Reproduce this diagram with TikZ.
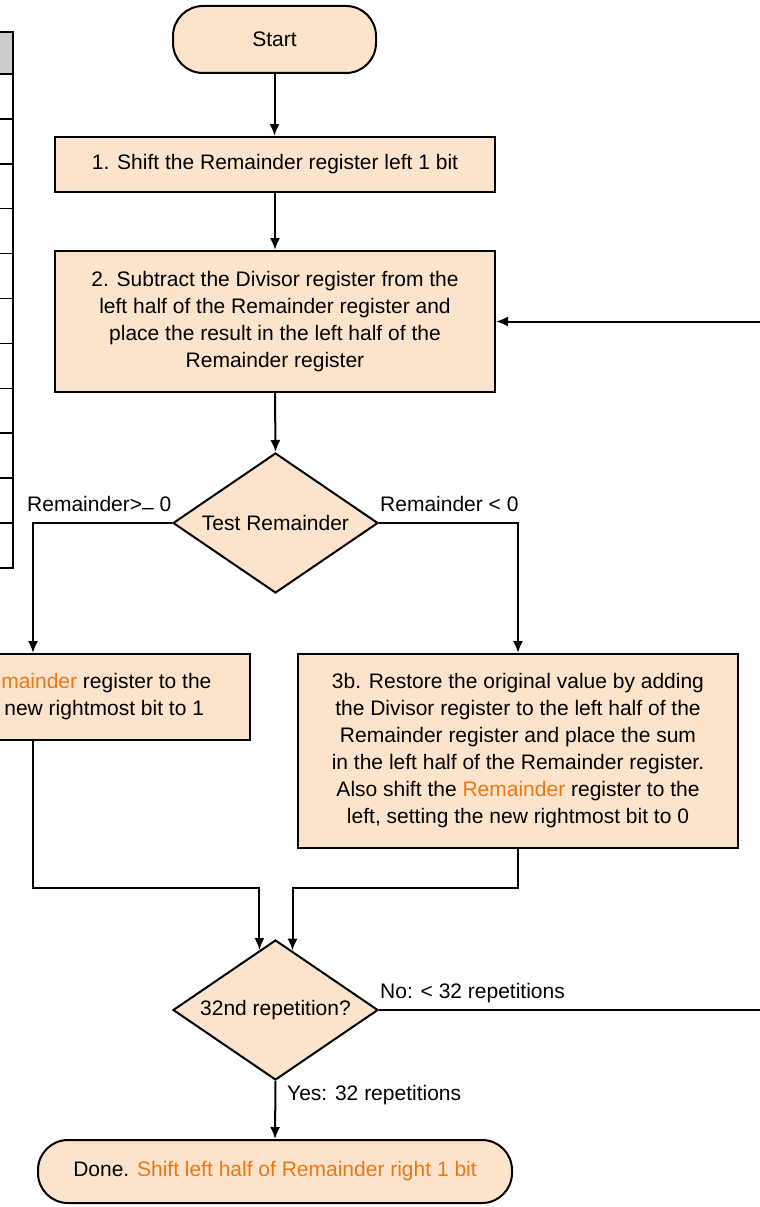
\documentclass[tikz,border=0pt]{standalone}
\usepackage{fontspec}
\setmainfont{Liberation Sans}
\usetikzlibrary{shapes.geometric,arrows.meta,calc}
\definecolor{boxfill}{RGB}{252,228,204}
\definecolor{hilite}{RGB}{235,120,20}
\definecolor{headgray}{RGB}{204,204,204}
\newcommand{\orng}[1]{\textcolor{hilite}{#1}}
\begin{document}
\begin{tikzpicture}[x=1pt,y=-1pt,
  font=\fontsize{21}{27}\selectfont,
  flow/.style={draw=black, line width=2pt, fill=boxfill, inner sep=0pt, align=center},
  procbox/.style={flow, rectangle},
  termbox/.style={flow, rectangle, rounded corners=30pt},
  decision/.style={flow, diamond, aspect=1.46, minimum width=205pt, minimum height=140pt},
  conn/.style={line width=2pt, -{Latex[length=12pt,width=10pt]}},
  lbl/.style={anchor=base west, inner sep=0pt},
  cell/.style={draw=black, line width=1.5pt}
]
\useasboundingbox (0,0) rectangle (760,1207);
\begin{scope}
\clip (0,0) rectangle (760,1207);

% table column at the left margin
\fill[headgray] (-20,32) rectangle (13,74);
\draw[cell] (-20,32) rectangle (13,74);
\foreach \i in {0,...,10}
  \draw[cell] (-20,{74+44.9*\i}) rectangle (13,{74+44.9*(\i+1)});

% flowchart nodes
\node[termbox, minimum width=203pt, minimum height=67pt] (start) at (274.5,39.5) {Start};
\node[procbox, minimum width=440pt, minimum height=55pt] (s1) at (275,164.5)
  {1. Shift the Remainder register left 1 bit};
\node[procbox, minimum width=440pt, minimum height=141pt] (s2) at (275,321.5)
  {2. Subtract the Divisor register from the\\left half of the Remainder register and\\place the result in the left half of the\\Remainder register};
\node[decision] (test) at (275.5,523) {Test Remainder};
\node[procbox, minimum width=434pt, minimum height=86pt] (s3a) at (33,697)
  {3a. Shift the \orng{Remainder} register to the\\left, setting the new rightmost bit to 1};
\node[procbox, minimum width=440pt, minimum height=194pt] (s3b) at (518,751)
  {3b. Restore the original value by adding\\the Divisor register to the left half of the\\Remainder register and place the sum\\in the left half of the Remainder register.\\Also shift the \orng{Remainder} register to the\\left, setting the new rightmost bit to 0};
\node[decision] (rep) at (275.5,1010) {32nd repetition?};
\node[termbox, minimum width=474pt, minimum height=63pt] (done) at (275,1171.5)
  {Done. \orng{Shift left half of Remainder right 1 bit}};

% connectors
\draw[conn] (start.south) -- (start.south |- s1.north);
\draw[conn] (s1.south) -- (s2.north);
\draw[conn] (s2.south) -- (test.north);
\draw[conn] (test.west) -| (s3a.north);
\draw[conn] (test.east) -| (s3b.north);
\coordinate (jy) at (0,888);
\draw[conn] (s3a.south) |- (rep.105.7 |- jy) -- (rep.105.7);
\draw[conn] (s3b.south) |- (rep.74.3 |- jy) -- (rep.74.3);
\draw[conn] (rep.south) -- (done.north);
\coordinate (rx) at (780,0);
\draw[conn] (rep.east) -- (rep.east -| rx) |- (s2.east);

% branch labels
\node[lbl] (lge) at (27,511) {Remainder>\raisebox{-0.15em}{–} 0};
\node[lbl] (llt) at (380,511) {Remainder < 0};
\node[lbl] (lno) at (380,998) {No: < 32 repetitions};
\node[lbl] (lyes) at (287,1100) {Yes: 32 repetitions};
\end{scope}
\end{tikzpicture}
\end{document}
